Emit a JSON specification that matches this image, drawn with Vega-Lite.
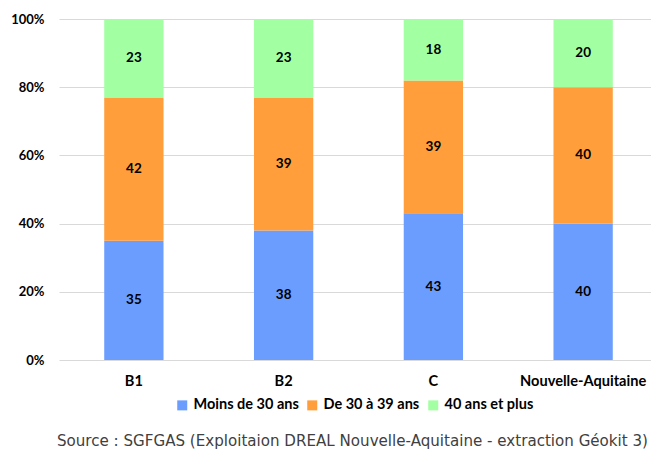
{
  "$schema": "https://vega.github.io/schema/vega-lite/v6.json",
  "width": 592,
  "height": 341,
  "autosize": {"type": "none"},
  "padding": {"left": 59, "top": 19, "right": 0, "bottom": 92},
  "background": "white",
  "config": {
    "view": {"stroke": null},
    "font": "Lato"
  },
  "title": {
    "text": "Source : SGFGAS (Exploitaion DREAL Nouvelle-Aquitaine - extraction Géokit 3)",
    "orient": "bottom",
    "anchor": "end",
    "frame": "group",
    "font": "DejaVu Sans",
    "fontSize": 15.1,
    "fontWeight": "normal",
    "color": "#404040",
    "offset": 22,
    "dx": -3
  },
  "data": {
    "values": [
      {"zone": "B1", "classe": "Moins de 30 ans", "ordre": 1, "pct": 35},
      {"zone": "B1", "classe": "De 30 à 39 ans", "ordre": 2, "pct": 42},
      {"zone": "B1", "classe": "40 ans et plus", "ordre": 3, "pct": 23},
      {"zone": "B2", "classe": "Moins de 30 ans", "ordre": 1, "pct": 38},
      {"zone": "B2", "classe": "De 30 à 39 ans", "ordre": 2, "pct": 39},
      {"zone": "B2", "classe": "40 ans et plus", "ordre": 3, "pct": 23},
      {"zone": "C", "classe": "Moins de 30 ans", "ordre": 1, "pct": 43},
      {"zone": "C", "classe": "De 30 à 39 ans", "ordre": 2, "pct": 39},
      {"zone": "C", "classe": "40 ans et plus", "ordre": 3, "pct": 18},
      {"zone": "Nouvelle-Aquitaine", "classe": "Moins de 30 ans", "ordre": 1, "pct": 40},
      {"zone": "Nouvelle-Aquitaine", "classe": "De 30 à 39 ans", "ordre": 2, "pct": 40},
      {"zone": "Nouvelle-Aquitaine", "classe": "40 ans et plus", "ordre": 3, "pct": 20}
    ]
  },
  "transform": [
    {"stack": "pct", "groupby": ["zone"], "sort": [{"field": "ordre", "order": "ascending"}], "as": ["v0", "v1"]},
    {"calculate": "(datum.v0 + datum.v1) / 2", "as": "vmid"}
  ],
  "encoding": {
    "x": {
      "field": "zone",
      "type": "nominal",
      "sort": ["B1", "B2", "C", "Nouvelle-Aquitaine"],
      "scale": {"range": [0, 599], "paddingInner": 0.604, "paddingOuter": 0.302},
      "axis": {
        "title": null,
        "labelAngle": 0,
        "labelFont": "Lato",
        "labelFontSize": 14.6,
        "labelFontWeight": "bold",
        "labelColor": "#000000",
        "labelPadding": 13,
        "ticks": false,
        "domain": false,
        "grid": false
      }
    }
  },
  "layer": [
    {
      "mark": {"type": "bar"},
      "encoding": {
        "y": {
          "field": "v0",
          "type": "quantitative",
          "scale": {"domain": [0, 100], "nice": false},
          "axis": {
            "title": null,
            "values": [0, 20, 40, 60, 80, 100],
            "labelExpr": "datum.value + '%'",
            "labelFont": "Lato",
            "labelFontSize": 13,
            "labelFontWeight": "bold",
            "labelColor": "#000000",
            "labelPadding": 15,
            "ticks": false,
            "domain": false,
            "grid": true,
            "gridColor": "#d9d9d9",
            "gridWidth": 1
          }
        },
        "y2": {"field": "v1"},
        "color": {
          "field": "classe",
          "type": "nominal",
          "sort": ["Moins de 30 ans", "De 30 à 39 ans", "40 ans et plus"],
          "scale": {
            "domain": ["Moins de 30 ans", "De 30 à 39 ans", "40 ans et plus"],
            "range": ["#6B9DFF", "#FF9E3B", "#A2FFA2"]
          },
          "legend": {
            "title": null,
            "orient": "none",
            "legendX": 116,
            "legendY": 379,
            "direction": "horizontal",
            "symbolType": "square",
            "symbolSize": 100,
            "symbolStrokeWidth": 0,
            "labelFont": "Lato",
            "labelFontSize": 14.5,
            "labelFontWeight": "bold",
            "labelColor": "#000000",
            "labelOffset": 4,
            "columnPadding": 6
          }
        }
      }
    },
    {
      "mark": {"type": "text", "font": "Lato", "fontSize": 13.5, "fontWeight": "bold", "color": "#000000", "baseline": "middle"},
      "encoding": {
        "y": {"field": "vmid", "type": "quantitative"},
        "text": {"field": "pct", "type": "quantitative"}
      }
    }
  ]
}
